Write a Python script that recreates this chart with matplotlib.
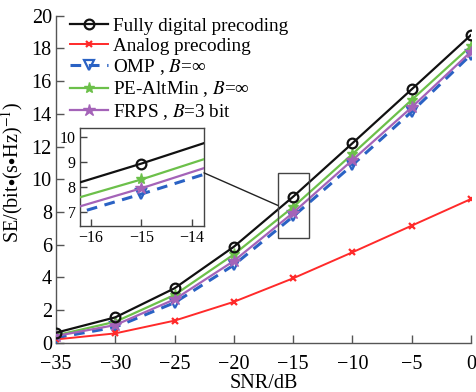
import matplotlib
matplotlib.use("Agg")
import matplotlib.pyplot as plt
from matplotlib.patches import Rectangle, ConnectionPatch

plt.rcParams['font.family'] = ['Liberation Serif', 'DejaVu Serif']
plt.rcParams['mathtext.fontset'] = 'stix'

snr = [-35, -30, -25, -20, -15, -10, -5, 0]
fully_digital = [0.61, 1.55, 3.33, 5.87, 8.93, 12.2, 15.5, 18.82]
analog = [0.2, 0.57, 1.35, 2.5, 3.94, 5.53, 7.16, 8.79]
omp = [0.3, 0.95, 2.45, 4.75, 7.72, 10.87, 14.13, 17.62]
pe_altmin = [0.45, 1.28, 2.92, 5.4, 8.3, 11.54, 14.85, 18.15]
frps = [0.41, 1.08, 2.65, 5.0, 7.95, 11.17, 14.4, 17.8]

labels = ['Fully digital precoding', 'Analog precoding',
          'OMP , $B$=∞', 'PE-AltMin , $B$=∞', 'FRPS , $B$=3 bit']

C_BLACK = '#111111'
C_RED = '#FF2A2A'
C_BLUE = '#2A62C4'
C_GREEN = '#6CC04A'
C_PURPLE = '#A463B8'

W, H = 477, 392
fig = plt.figure(figsize=(W / 100, H / 100), dpi=100)
ax = fig.add_axes([56 / W, 1 - 342.7 / H, (471 - 56) / W, (342.7 - 15.7) / H])


def draw(a, ms_scale=1.0):
    a.plot(snr, fully_digital, color=C_BLACK, lw=1.6, marker='o', ms=7 * ms_scale,
           mfc='none', mew=1.6, label=labels[0], zorder=5)
    a.plot(snr, analog, color=C_RED, lw=1.4, marker='x', ms=5 * ms_scale,
           mew=1.6, label=labels[1], zorder=4)
    a.plot(snr, omp, color=C_BLUE, lw=2.2, ls=(0, (3.5, 2.5)), marker='v',
           ms=7 * ms_scale, mfc='none', mew=1.6, label=labels[2], zorder=3)
    a.plot(snr, pe_altmin, color=C_GREEN, lw=1.6, marker='*', ms=8 * ms_scale,
           mew=1.0, label=labels[3], zorder=4)
    a.plot(snr, frps, color=C_PURPLE, lw=1.6, marker='*', ms=9 * ms_scale,
           mew=1.0, label=labels[4], zorder=4)


draw(ax)
ax.set_xlim(-35, 0)
ax.set_ylim(0, 20)
ax.set_xticks([-35, -30, -25, -20, -15, -10, -5, 0])
ax.set_yticks(range(0, 21, 2))
ax.spines['top'].set_visible(False)
ax.spines['right'].set_visible(False)
for s in ['left', 'bottom']:
    ax.spines[s].set_color('#555555')
    ax.spines[s].set_linewidth(1.0)
ax.tick_params(direction='in', length=6, width=1.0, color='#555555',
               labelsize=14.5, pad=3)
ax.tick_params(axis='x', pad=9)
ax.set_xlabel('SNR/dB', fontsize=14.5, labelpad=0)
ax.set_ylabel('SE/(bit$\\bullet$(s$\\bullet$Hz)$^{-1}$)', fontsize=14.5)
ax.yaxis.set_label_coords(-0.074, 0.52)

leg = ax.legend(loc='upper left', bbox_to_anchor=(0.034, 0.995), frameon=False,
                fontsize=13.8, handlelength=2.0, handletextpad=0.25,
                labelspacing=0.13, borderpad=0, borderaxespad=0)

# zoom rectangle in main axes
x0, x1, y0, y1 = -16.22, -13.76, 6.45, 10.33
ax.add_patch(Rectangle((x0 - 0.08, y0 - 0.07), (x1 - x0) + 0.15, (y1 - y0) + 0.12,
                       fill=False, ec='#444444', lw=1.0, zorder=6))

# inset
axin = fig.add_axes([80 / W, 1 - 226 / H, (204 - 80) / W, (226 - 128.3) / H])
draw(axin)
axin.set_xlim(x0, x1)
axin.set_ylim(y0, y1)
axin.set_xticks([-16, -15, -14])
axin.set_yticks([7, 8, 9, 10])
for s in axin.spines.values():
    s.set_color('#444444')
    s.set_linewidth(1.0)
axin.tick_params(direction='in', length=5, width=1.0, color='#444444',
                 labelsize=11.5, pad=3)

con = ConnectionPatch(xyA=(x1, 8.56), coordsA=axin.transData,
                      xyB=(x0 - 0.08, 8.4), coordsB=ax.transData,
                      color='#222222', lw=1.0)
fig.add_artist(con)

fig.savefig('out.png', dpi=100)
